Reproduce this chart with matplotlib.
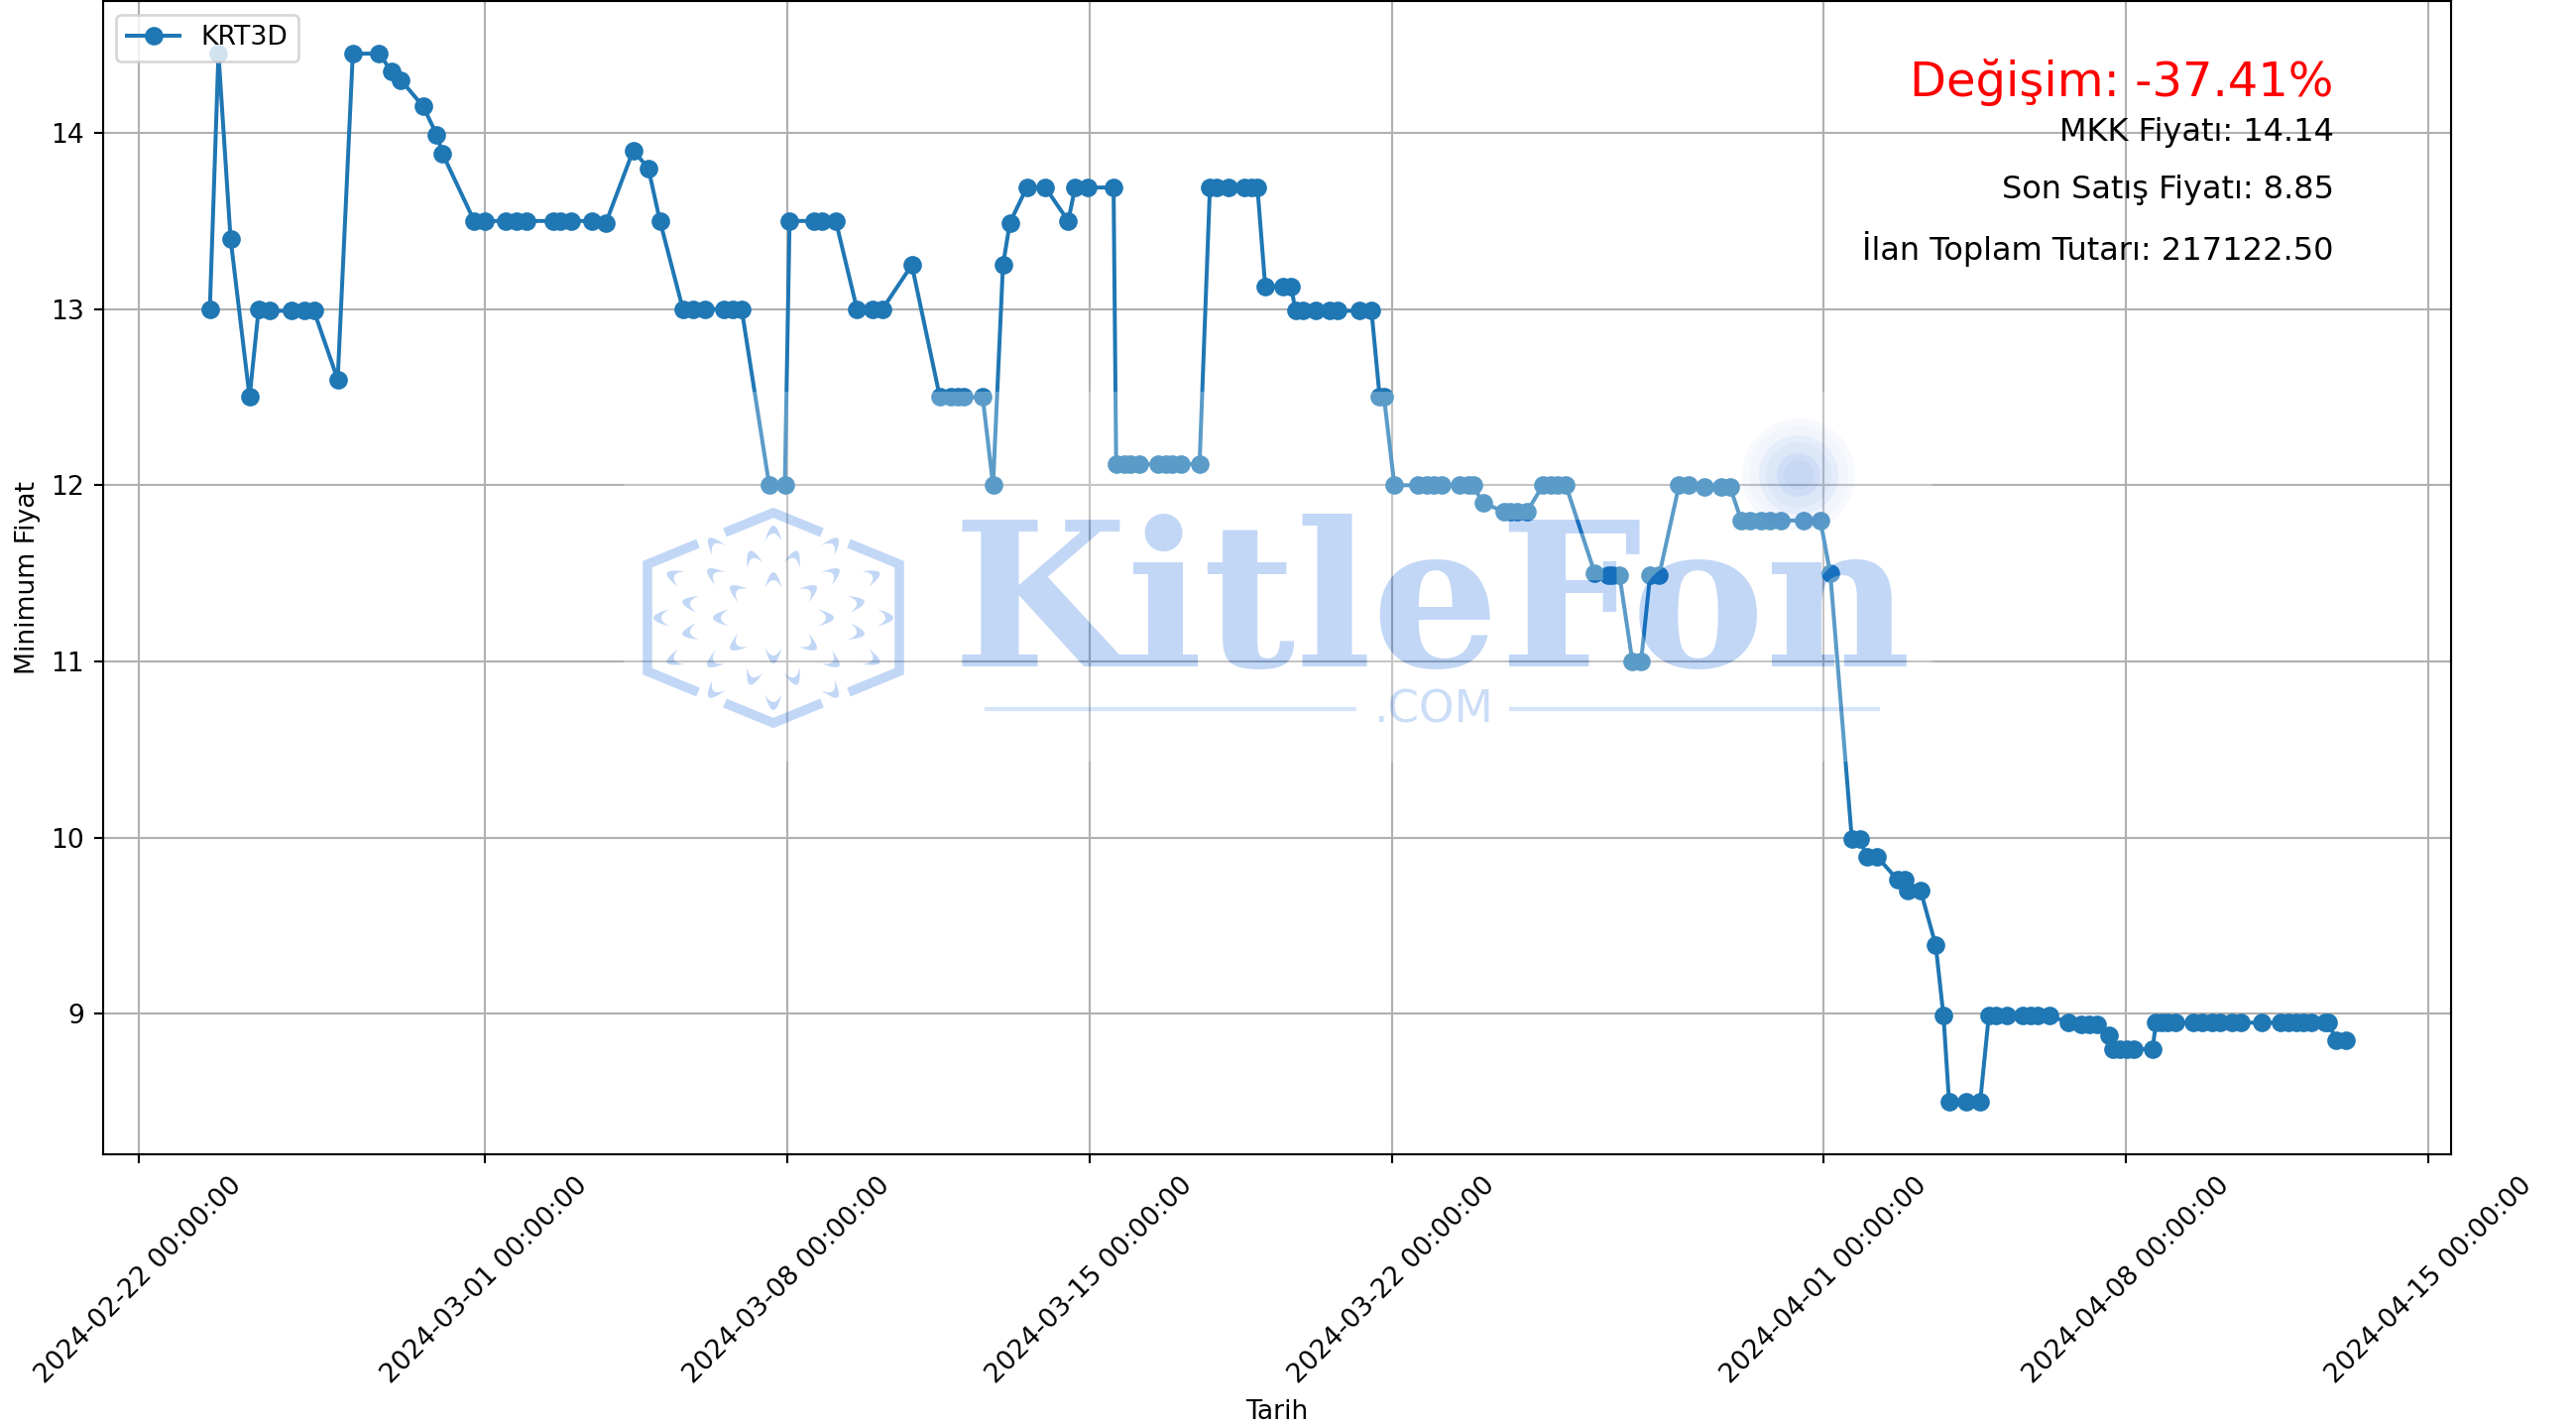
import numpy as np
import matplotlib
matplotlib.use("Agg")
import matplotlib.pyplot as plt
import matplotlib.dates as mdates
from datetime import datetime
from matplotlib.patches import PathPatch, Circle
from matplotlib.path import Path
from matplotlib.textpath import TextPath
from matplotlib.font_manager import FontProperties
from matplotlib.transforms import Affine2D, IdentityTransform

# Data: fractional days since 2024-02-22
series_name = "KRT3D"
start_date = datetime(2024, 2, 22)
days = [
    1.64, 1.84, 2.12, 2.56, 2.77, 3.02, 3.52, 3.82, 4.05, 4.60, 4.95, 5.56, 5.84, 6.06, 6.58, 6.89, 7.03,
    7.76, 8.00, 8.49, 8.75, 8.98, 9.58, 9.74, 10.00, 10.48, 10.81, 11.44, 11.79, 12.06,
    12.59, 12.82, 13.10, 13.54, 13.74, 13.95, 14.59, 14.95,
    15.06, 15.62, 15.82, 16.13, 16.62, 16.97, 17.21, 17.89,
    18.54, 18.80, 18.95, 19.10, 19.53, 19.77, 20.00, 20.16, 20.55, 20.98, 21.51,
    21.67, 21.96, 22.56, 22.62, 22.80, 22.95, 23.15, 23.59, 23.77, 23.92, 24.11, 24.55,
    24.79, 24.95, 25.22, 25.59, 25.75, 25.89, 26.07, 26.48, 26.67,
    26.77, 26.95, 27.25, 27.56, 27.74, 28.26, 28.53, 28.72, 28.82, 29.06,
    29.60, 29.80, 29.96, 30.16, 30.57, 30.78, 30.88, 31.11,
    31.60, 31.75, 31.90, 32.13, 32.50, 32.67, 32.83, 33.03,
    33.70, 34.00, 34.11, 34.27, 34.57, 34.77, 34.98, 35.19, 35.65, 35.86, 36.23, 36.62, 36.83,
    37.09, 37.29, 37.55, 37.75, 38.01, 38.53, 38.92, 39.15,
    39.65, 39.83, 40.00, 40.24, 40.71, 40.87, 40.95, 41.24, 41.59, 41.77, 41.90, 42.29, 42.62,
    42.82, 42.99, 43.23, 43.60, 43.78, 43.96, 44.22, 44.66, 44.97, 45.14, 45.32, 45.61,
    45.69, 45.85, 46.02, 46.18, 46.61, 46.69, 46.82, 46.95, 47.13, 47.55, 47.75, 48.00, 48.18, 48.44, 48.66,
    49.14, 49.58, 49.76, 49.93, 50.11, 50.29, 50.60, 50.68, 50.86, 51.08,
]
prices = [
    13.0, 14.45, 13.4, 12.5, 13.0, 12.99, 12.99, 12.99, 12.99, 12.6, 14.45, 14.45, 14.35, 14.3, 14.15, 13.99, 13.88,
    13.5, 13.5, 13.5, 13.5, 13.5, 13.5, 13.5, 13.5, 13.5, 13.49, 13.9, 13.8, 13.5,
    13.0, 13.0, 13.0, 13.0, 13.0, 13.0, 12.0, 12.0,
    13.5, 13.5, 13.5, 13.5, 13.0, 13.0, 13.0, 13.25,
    12.5, 12.5, 12.5, 12.5, 12.5, 12.0, 13.25, 13.49, 13.69, 13.69, 13.5,
    13.69, 13.69, 13.69, 12.12, 12.12, 12.12, 12.12, 12.12, 12.12, 12.12, 12.12, 12.12,
    13.69, 13.69, 13.69, 13.69, 13.69, 13.69, 13.13, 13.13, 13.13,
    12.99, 12.99, 12.99, 12.99, 12.99, 12.99, 12.99, 12.5, 12.5, 12.0,
    12.0, 12.0, 12.0, 12.0, 12.0, 12.0, 12.0, 11.9,
    11.85, 11.85, 11.85, 11.85, 12.0, 12.0, 12.0, 12.0,
    11.5, 11.49, 11.49, 11.49, 11.0, 11.0, 11.49, 11.49, 12.0, 12.0, 11.99, 11.99, 11.99,
    11.8, 11.8, 11.8, 11.8, 11.8, 11.8, 11.8, 11.5,
    9.99, 9.99, 9.89, 9.89, 9.76, 9.76, 9.70, 9.70, 9.39, 8.99, 8.5, 8.5, 8.5,
    8.99, 8.99, 8.99, 8.99, 8.99, 8.99, 8.99, 8.95, 8.94, 8.94, 8.94, 8.88,
    8.8, 8.8, 8.8, 8.8, 8.8, 8.95, 8.95, 8.95, 8.95, 8.95, 8.95, 8.95, 8.95, 8.95, 8.95,
    8.95, 8.95, 8.95, 8.95, 8.95, 8.95, 8.95, 8.95, 8.85, 8.85,
]
tick_dates = [datetime(2024, 2, 22), datetime(2024, 3, 1), datetime(2024, 3, 8), datetime(2024, 3, 15),
              datetime(2024, 3, 22), datetime(2024, 4, 1), datetime(2024, 4, 8), datetime(2024, 4, 15)]
change_label = "Değişim: -37.41%"
info_labels = ["MKK Fiyatı: 14.14", "Son Satış Fiyatı: 8.85", "İlan Toplam Tutarı: 217122.50"]

W, H, DPI = 2598, 1440, 192
fig = plt.figure(figsize=(W / DPI, H / DPI), dpi=DPI)
L, R, T, B = 104, 2472, 1.2, 1164
ax = fig.add_axes([L / W, 1 - B / H, (R - L) / W, (B - T) / H])

base = mdates.date2num(start_date)
x = base + np.array(days)
ax.plot(mdates.num2date(x), prices, marker="o", label=series_name)
ax.set_xlim(base - 0.83, base + 53.52)
ax.set_ylim(8.2025, 14.7475)
ax.set_xticks(tick_dates)
ax.xaxis.set_major_formatter(mdates.DateFormatter("%Y-%m-%d %H:%M:%S"))
ax.tick_params(axis="x", labelrotation=45)
ax.set_xlabel("Tarih")
ax.set_ylabel("Minimum Fiyat")
ax.grid(True)
ax.legend(loc="upper left")

ax.text(0.95, 0.93, change_label, transform=ax.transAxes, ha="right", va="center", color="red", fontsize=18)
for label, yf in zip(info_labels, [0.886, 0.836, 0.785]):
    ax.text(0.95, yf, label, transform=ax.transAxes, ha="right", va="center", fontsize=12)

# Watermark, placed in reference pixels (origin top-left)
px = Affine2D().scale(1, -1).translate(0, H)
wm = (0.0, 0.35, 0.86, 0.24)
Z = 6
word_x, word_y, word_size = 960, 672, 76
fp = FontProperties(family="DejaVu Serif", weight="bold")
word = TextPath((0, 0), "KitleFon", size=word_size, prop=fp)
word = word.transformed(Affine2D().scale(DPI / 72).translate(word_x, H - word_y))
x0, x1, y0, y1 = 629, 1949, H - 768, H - 395
rect = Path([(x0, y0), (x1, y0), (x1, y1), (x0, y1), (x0, y0)], closed=True)
veil = Path.make_compound_path(rect, word)
ax.add_artist(PathPatch(veil, transform=IdentityTransform(), fc=(1, 1, 1, 0.27), ec="none", zorder=Z, clip_on=False))
ax.text(word_x, word_y, "KitleFon", transform=px, fontproperties=fp, fontsize=word_size, color=wm,
        ha="left", va="baseline", zorder=Z + 1, clip_on=False)
ax.text(1446, 716, ".COM", transform=px, family="DejaVu Sans", fontsize=17, color=(0, 0.35, 0.86, 0.2),
        ha="center", va="center", zorder=Z + 1, clip_on=False)
for a, b in [(993, 1368), (1522, 1896)]:
    ax.plot([a, b], [715, 715], transform=px, color=(0, 0.35, 0.86, 0.16), lw=1.6, zorder=Z + 1,
            clip_on=False, scalex=False, scaley=False, solid_capstyle="butt")

# glow
for r, al in [(57, 0.03), (50, 0.02), (40, 0.05), (33, 0.04), (22, 0.06), (15, 0.04)]:
    ax.add_artist(Circle((1814, 479), r, transform=px, fc=(0, 0.35, 0.86, al), ec="none", zorder=Z + 1, clip_on=False))

# hexagon logo
cx, cy = 780, 623
hexes = [
    [(-49, -86), (0, -106), (49, -86)],
    [(-49, 86), (0, 106), (49, 86)],
    [(-76, -75), (-127, -54), (-127, 54), (-76, 75)],
    [(76, -75), (127, -54), (127, 54), (76, 75)],
]
for seg in hexes:
    s = np.array(seg) + (cx, cy)
    ax.plot(s[:, 0], s[:, 1], transform=px, color=wm, lw=3.6, zorder=Z + 1, clip_on=False,
            scalex=False, scaley=False, solid_joinstyle="miter", solid_capstyle="butt")

quarter = [(0, -38), (-37, -27), (-53, 0), (-21, -60), (-60, -44), (-84, -15), (0, -85), (-60, -74),
           (-100, -42), (-113, 0)]
mirrored = set()
for dx, dy in quarter:
    for sx in (1, -1):
        for sy in (1, -1):
            mirrored.add((sx * dx, sy * dy))
verts, codes = [], []
t = np.linspace(-1, 1, 15)
for dx, dy in sorted(mirrored):
    ang = np.arctan2(dy, dx)
    u = np.r_[t, t[::-1]] * 8.5
    v = np.r_[(1 - t ** 2) * 16, (1 - t[::-1] ** 2) * 8] - 8
    px_x = cx + dx + v * np.cos(ang) - u * np.sin(ang)
    px_y = cy + dy + v * np.sin(ang) + u * np.cos(ang)
    pts = list(zip(px_x, px_y))
    verts += pts + [pts[0]]
    codes += [Path.MOVETO] + [Path.LINETO] * (len(pts) - 1) + [Path.CLOSEPOLY]
ax.add_artist(PathPatch(Path(verts, codes), transform=px, fc=wm, ec="none", zorder=Z + 1, clip_on=False))

fig.savefig("out.png", dpi=DPI)
